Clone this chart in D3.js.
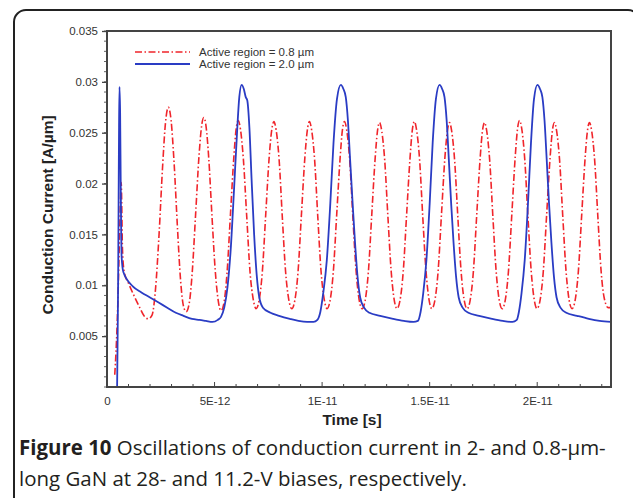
<!DOCTYPE html>
<html>
<head>
<meta charset="utf-8">
<script src="https://cdn.jsdelivr.net/npm/d3@7"></script>
<style>
  body { margin: 0; background: #fff; }
  text { font-family: "Liberation Sans", Arial, sans-serif; }
</style>
</head>
<body>
<svg id="chart" width="633" height="498"></svg>
<script>
// time in ps (1E-12 s), current in A/um
const red08 = [
  [0.36,0.0012],[0.42,0.0035],[0.5,0.008],[0.58,0.0145],[0.66,0.0201],[0.72,0.0135],[0.8,0.0113],[1.0,0.0102],[1.25,0.0090],[1.5,0.0079],[1.72,0.0070],[1.92,0.0067],[2.1,0.0071],
  [2.25,0.0095],[2.42,0.0150],[2.58,0.0215],[2.72,0.0260],[2.85,0.0275],[2.98,0.0262],[3.12,0.0220],[3.28,0.0155],[3.42,0.0105],[3.55,0.0080],[3.68,0.0074],
  [3.82,0.0082],[3.96,0.0112],[4.12,0.0170],[4.28,0.0228],[4.4,0.0257],[4.5,0.0265],[4.6,0.0257],[4.73,0.0225],[4.88,0.0168],[5.03,0.0115],[5.17,0.0085],[5.3,0.0075],
  [5.44,0.0083],[5.58,0.0112],[5.74,0.0170],[5.9,0.0227],[6.0,0.0253],[6.1,0.0262],[6.2,0.0254],[6.34,0.0224],[6.5,0.0166],[6.65,0.0113],[6.8,0.0086],[6.93,0.0077],
  [7.07,0.0085],[7.22,0.0113],[7.38,0.0170],[7.54,0.0226],[7.66,0.0253],[7.76,0.0261],[7.86,0.0253],[8.0,0.0224],[8.15,0.0167],[8.3,0.0114],[8.45,0.0086],[8.59,0.0077],
  [8.73,0.0085],[8.88,0.0113],[9.04,0.0170],[9.2,0.0226],[9.31,0.0252],[9.41,0.0261],[9.51,0.0253],[9.65,0.0224],[9.8,0.0167],[9.95,0.0114],[10.1,0.0086],[10.23,0.0077],
  [10.37,0.0085],[10.52,0.0113],[10.68,0.0170],[10.84,0.0226],[10.94,0.0252],[11.04,0.0261],[11.14,0.0253],[11.28,0.0224],[11.43,0.0167],[11.58,0.0114],[11.72,0.0086],[11.86,0.0077],
  [12.0,0.0085],[12.15,0.0113],[12.31,0.0170],[12.47,0.0226],[12.57,0.0251],[12.67,0.0260],[12.77,0.0252],[12.91,0.0223],[13.06,0.0167],[13.21,0.0114],[13.35,0.0086],[13.48,0.0077],
  [13.62,0.0085],[13.77,0.0113],[13.93,0.0170],[14.09,0.0226],[14.19,0.0252],[14.29,0.0261],[14.39,0.0253],[14.53,0.0224],[14.68,0.0167],[14.83,0.0114],[14.97,0.0086],[15.1,0.0077],
  [15.24,0.0085],[15.39,0.0113],[15.55,0.0170],[15.71,0.0226],[15.82,0.0251],[15.92,0.0260],[16.02,0.0252],[16.16,0.0223],[16.31,0.0167],[16.46,0.0114],[16.6,0.0086],[16.74,0.0077],
  [16.88,0.0085],[17.03,0.0113],[17.19,0.0170],[17.35,0.0226],[17.45,0.0251],[17.55,0.0260],[17.65,0.0252],[17.79,0.0223],[17.94,0.0167],[18.09,0.0114],[18.23,0.0086],[18.37,0.0077],
  [18.51,0.0085],[18.66,0.0113],[18.82,0.0170],[18.98,0.0227],[19.08,0.0253],[19.18,0.0262],[19.28,0.0254],[19.42,0.0224],[19.57,0.0167],[19.72,0.0114],[19.86,0.0086],[19.99,0.0077],
  [20.13,0.0085],[20.28,0.0113],[20.44,0.0170],[20.6,0.0226],[20.7,0.0251],[20.8,0.0260],[20.9,0.0252],[21.04,0.0223],[21.19,0.0167],[21.34,0.0114],[21.48,0.0086],[21.62,0.0077],
  [21.76,0.0085],[21.91,0.0113],[22.07,0.0170],[22.23,0.0226],[22.33,0.0251],[22.43,0.0260],[22.53,0.0252],[22.67,0.0223],[22.82,0.0167],[22.97,0.0114],[23.11,0.0088],[23.3,0.0078],[23.43,0.0078]
];

const blue20 = [
  [0.47,0.0],[0.49,0.004],[0.52,0.011],[0.54,0.0185],[0.56,0.0255],[0.58,0.0295],[0.61,0.027],[0.64,0.0195],[0.68,0.0128],[0.76,0.0113],[1.2,0.0099],[1.6,0.0093],[2.0,0.0088],[2.4,0.0083],[2.8,0.0078],[3.2,0.0073],[3.55,0.0070],[3.95,0.0067],[4.3,0.0066],[4.6,0.0065],[4.9,0.0064],[5.15,0.0066],[5.3,0.0069],
  [5.45,0.0078],[5.6,0.0098],[5.75,0.0135],[5.9,0.0192],[6.05,0.0252],[6.15,0.0285],[6.26,0.0297],[6.36,0.0293],[6.45,0.0285],[6.52,0.0282],[6.62,0.0255],[6.72,0.0205],[6.84,0.0150],[6.96,0.0110],[7.08,0.0088],[7.25,0.0078],[7.6,0.0073],[8.0,0.0070],[8.5,0.0067],[8.9,0.0065],[9.3,0.0064],[9.6,0.0064],[9.78,0.0066],
  [9.92,0.0074],[10.05,0.0092],[10.22,0.0125],[10.38,0.0180],[10.53,0.0240],[10.69,0.0283],[10.87,0.0297],[10.99,0.0293],[11.1,0.0285],[11.2,0.0262],[11.3,0.0224],[11.42,0.0180],[11.53,0.0142],[11.65,0.0108],[11.77,0.0088],[11.95,0.0078],[12.2,0.0073],[12.7,0.0070],[13.3,0.0067],[13.8,0.0065],[14.25,0.0064],[14.45,0.0065],
  [14.58,0.0074],[14.7,0.0092],[14.85,0.0125],[15.0,0.0180],[15.14,0.0240],[15.29,0.0283],[15.46,0.0297],[15.58,0.0293],[15.69,0.0285],[15.79,0.0262],[15.89,0.0224],[16.0,0.0180],[16.11,0.0142],[16.23,0.0108],[16.35,0.0088],[16.53,0.0078],[16.8,0.0073],[17.3,0.0070],[17.9,0.0067],[18.4,0.0065],[18.85,0.0064],[19.05,0.0066],
  [19.15,0.0074],[19.27,0.0092],[19.42,0.0125],[19.57,0.0180],[19.71,0.0240],[19.85,0.0283],[20.01,0.0297],[20.13,0.0293],[20.24,0.0285],[20.34,0.0262],[20.44,0.0224],[20.55,0.0180],[20.66,0.0142],[20.78,0.0108],[20.9,0.0088],[21.08,0.0078],[21.35,0.0073],[21.85,0.0070],[22.4,0.0067],[22.9,0.0065],[23.43,0.0064]
];

const xTicks = [0, 5, 10, 15, 20];
const xTickLabels = ["0", "5E-12", "1E-11", "1.5E-11", "2E-11"];
const yTicks = [0.005, 0.01, 0.015, 0.02, 0.025, 0.03, 0.035];
const yTickLabels = ["0.005", "0.01", "0.015", "0.02", "0.025", "0.03", "0.035"];
const legendLabels = ["Active region = 0.8 \u00b5m", "Active region = 2.0 \u00b5m"];

const svg = d3.select("#chart");
const mLeft = 107, mRight = 611, mTop = 31, mBottom = 387;

// figure frame
svg.append("rect")
  .attr("x", 14).attr("y", 10).attr("width", 626).attr("height", 520)
  .attr("rx", 12).attr("fill", "none").attr("stroke", "#222").attr("stroke-width", 2);

const x = d3.scaleLinear().domain([0, 23.43]).range([mLeft, mRight]);
const y = d3.scaleLinear().domain([0, 0.035]).range([mBottom, mTop]);

svg.append("clipPath").attr("id", "clip")
  .append("rect").attr("x", mLeft).attr("y", mTop).attr("width", mRight - mLeft).attr("height", mBottom - mTop);

// minor ticks
const xMinor = d3.range(0, 24, 1);
const yMinor = d3.range(0, 0.0355, 0.001);

svg.append("g").selectAll("line").data(xMinor).enter().append("line")
  .attr("x1", d => x(d)).attr("x2", d => x(d))
  .attr("y1", mBottom).attr("y2", d => mBottom - (d % 5 === 0 ? 5 : 3))
  .attr("stroke", "#444").attr("stroke-width", 1);

svg.append("g").selectAll("line").data(yMinor).enter().append("line")
  .attr("y1", d => y(d)).attr("y2", d => y(d))
  .attr("x1", mLeft).attr("x2", mLeft - 3)
  .attr("stroke", "#666").attr("stroke-width", 1);

// major axes
const xAxis = svg.append("g").attr("transform", `translate(0,${mBottom})`)
  .call(d3.axisBottom(x).tickValues(xTicks).tickSize(0).tickPadding(10)
    .tickFormat((d, i) => xTickLabels[i]));
const yAxis = svg.append("g").attr("transform", `translate(${mLeft},0)`)
  .call(d3.axisLeft(y).tickValues(yTicks).tickSize(5).tickPadding(4)
    .tickFormat((d, i) => yTickLabels[i]));
[xAxis, yAxis].forEach(a => {
  a.select(".domain").remove();
  a.selectAll("text").attr("font-size", 11.5).attr("fill", "#333")
    .style("font-family", "'Liberation Sans', Arial, sans-serif");
  a.selectAll("line").attr("stroke", "#444").attr("stroke-width", 1.3);
});

// curves
const line = d3.line().x(d => x(d[0])).y(d => y(d[1])).curve(d3.curveMonotoneX);
const plot = svg.append("g").attr("clip-path", "url(#clip)");
plot.append("path").datum(red08).attr("d", line)
  .attr("fill", "none").attr("stroke", "#f0252b").attr("stroke-width", 1.6)
  .attr("stroke-dasharray", "7,2.5,1.5,2.5");
plot.append("path").datum(blue20).attr("d", line)
  .attr("fill", "none").attr("stroke", "#2a3cc4").attr("stroke-width", 1.8);

// plot border
svg.append("rect").attr("x", mLeft).attr("y", mTop).attr("width", mRight - mLeft).attr("height", mBottom - mTop)
  .attr("fill", "none").attr("stroke", "#444").attr("stroke-width", 2);

// legend
const legend = svg.append("g");
const lgStyles = [
  { stroke: "#f0252b", dash: "7,2.5,1.5,2.5", w: 1.6 },
  { stroke: "#2a3cc4", dash: null, w: 1.8 }
];
legendLabels.forEach((lab, i) => {
  const ly = 52 + i * 12;
  legend.append("line").attr("x1", 135).attr("x2", 190).attr("y1", ly).attr("y2", ly)
    .attr("stroke", lgStyles[i].stroke).attr("stroke-width", lgStyles[i].w)
    .attr("stroke-dasharray", lgStyles[i].dash);
  legend.append("text").attr("x", 199).attr("y", ly + 4).attr("font-size", 11.5)
    .attr("fill", "#333").text(lab);
});

// axis titles
svg.append("text").attr("x", 352).attr("y", 425).attr("text-anchor", "middle")
  .attr("font-size", 15.5).attr("font-weight", "bold").attr("fill", "#222").text("Time [s]");
svg.append("text").attr("transform", "translate(53,215) rotate(-90)").attr("text-anchor", "middle")
  .attr("font-size", 15.5).attr("font-weight", "bold").attr("fill", "#222").text("Conduction Current [A/\u00b5m]");

// caption
const capFont = "'Open Sans', 'Noto Sans', sans-serif";
const cap1 = svg.append("text").attr("x", 19).attr("y", 455).attr("font-size", 19)
  .attr("fill", "#231f20").style("font-family", capFont);
cap1.append("tspan").attr("font-weight", "bold").text("Figure 10");
cap1.append("tspan").text(" Oscillations of conduction current in 2- and 0.8-\u00b5m-");
const cap2 = svg.append("text").attr("x", 19).attr("y", 486).attr("font-size", 19)
  .attr("fill", "#231f20").style("font-family", capFont)
  .text("long GaN at 28- and 11.2-V biases, respectively.");
const w1 = cap1.node().getComputedTextLength();
const fs = 19 * 587 / w1;
cap1.attr("font-size", fs);
cap2.attr("font-size", fs);
</script>
</body>
</html>
